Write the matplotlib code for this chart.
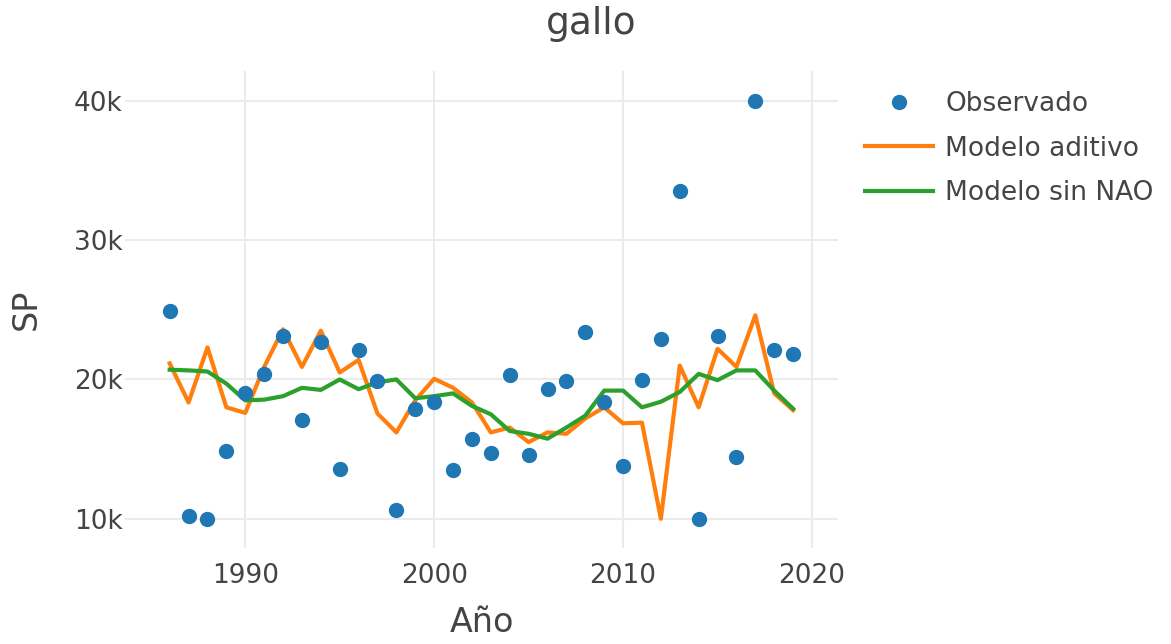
import matplotlib.pyplot as plt
from matplotlib.ticker import FuncFormatter

years = list(range(1986, 2020))

observado = [24.88, 10.2, 10.0, 14.83, 19.0, 20.36, 23.1, 17.1, 22.7, 13.6,
             22.1, 19.9, 10.6, 17.85, 18.4, 13.5, 15.75, 14.7, 20.3, 14.55,
             19.3, 19.86, 23.4, 18.35, 13.8, 19.93, 22.9, 33.5, 10.0, 23.15,
             14.47, 39.95, 22.1, 21.8]

aditivo = [21.15, 18.35, 22.3, 18.0, 17.6, 20.9, 23.6, 20.9, 23.5, 20.5,
           21.4, 17.55, 16.2, 18.5, 20.05, 19.4, 18.35, 16.2, 16.55, 15.5,
           16.2, 16.1, 17.2, 18.0, 16.85, 16.9, 10.0, 21.0, 18.0, 22.2,
           20.9, 24.6, 19.0, 17.8]

sin_nao = [20.7, 20.65, 20.57, 19.7, 18.5, 18.55, 18.8, 19.4, 19.25, 20.0,
           19.3, 19.8, 20.0, 18.65, 18.8, 19.0, 18.1, 17.5, 16.3, 16.1,
           15.75, 16.55, 17.4, 19.2, 19.2, 18.0, 18.4, 19.1, 20.4, 19.95,
           20.65, 20.65, 19.2, 17.9]

# valores en miles
observado = [v * 1000 for v in observado]
aditivo = [v * 1000 for v in aditivo]
sin_nao = [v * 1000 for v in sin_nao]

plt.rcParams['font.family'] = ['DejaVu Sans']
txt = '#444444'

fig = plt.figure(figsize=(11.71, 6.44), dpi=100)
ax = fig.add_axes([0.107, 0.149, 0.609, 0.741])

ax.plot(years, observado, 'o', color='#1f77b4', markersize=10, label='Observado', zorder=3)
ax.plot(years, aditivo, color='#ff7f0e', linewidth=3, label='Modelo aditivo', zorder=2)
ax.plot(years, sin_nao, color='#2ca02c', linewidth=3, label='Modelo sin NAO', zorder=2)

ax.set_xlim(1983.65, 2021.4)
ax.set_ylim(7900, 42150)
ax.set_xticks([1990, 2000, 2010, 2020])
ax.set_yticks([10000, 20000, 30000, 40000])
ax.yaxis.set_major_formatter(FuncFormatter(lambda v, p: f'{int(v / 1000)}k'))

ax.grid(color='#ebebeb', linewidth=1.5)
ax.set_axisbelow(True)
for s in ax.spines.values():
    s.set_visible(False)
ax.tick_params(length=0, labelsize=19, colors=txt)
ax.tick_params(axis='x', pad=11)
ax.tick_params(axis='y', pad=2)

ax.set_xlabel('Año', fontsize=24, color=txt, labelpad=12)
ax.set_ylabel('SP', fontsize=24, color=txt, labelpad=22)
fig.suptitle('gallo', fontsize=27, color=txt, x=0.505, y=0.99)

leg = fig.legend(loc='upper left', bbox_to_anchor=(0.718, 0.895), frameon=False,
                 fontsize=19, handlelength=2.6, labelspacing=0.69, handletextpad=0.45)
for t in leg.get_texts():
    t.set_color(txt)

fig.savefig('out.png', dpi=100)
